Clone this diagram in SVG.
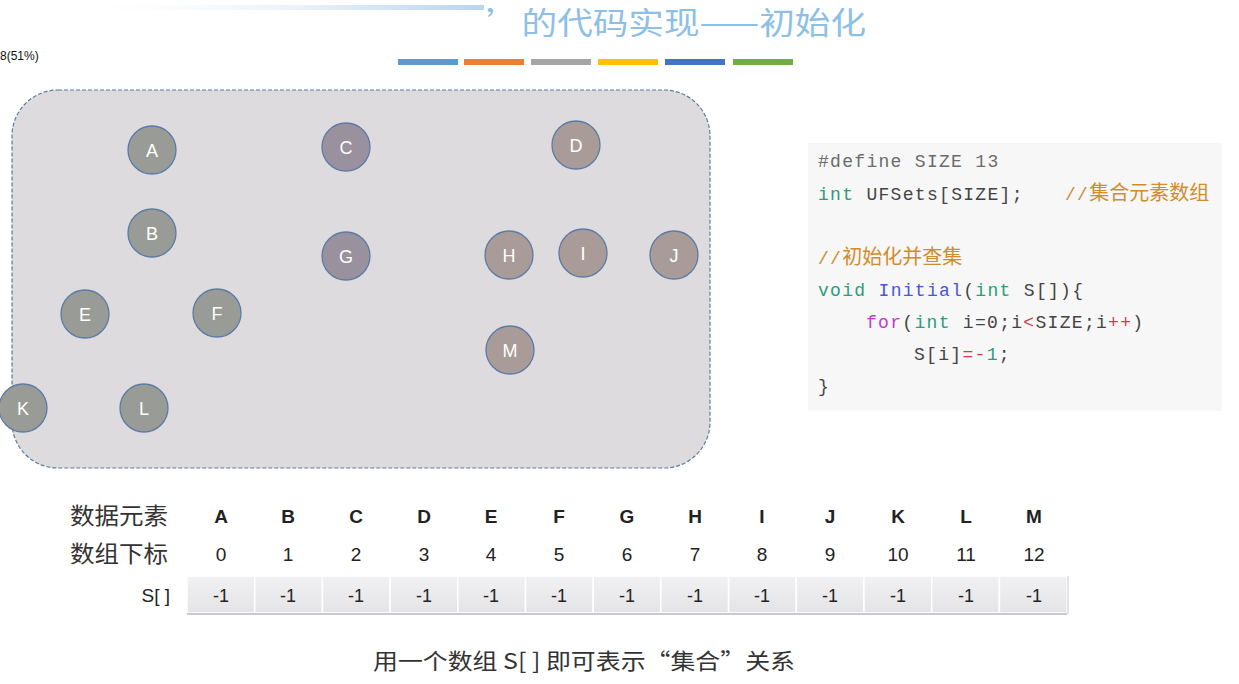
<svg xmlns="http://www.w3.org/2000/svg" width="1239" height="684" viewBox="0 0 1239 684">
<defs>
<linearGradient id="fade" x1="0" y1="0" x2="1" y2="0">
<stop offset="0" stop-color="#ffffff" stop-opacity="0"/>
<stop offset="0.6" stop-color="#e6eff8"/>
<stop offset="1" stop-color="#b9d5ee"/>
</linearGradient>
<linearGradient id="cell" x1="0" y1="0" x2="0" y2="1">
<stop offset="0" stop-color="#f1f1f3"/>
<stop offset="1" stop-color="#e4e4e6"/>
</linearGradient>
</defs>
<style>
.cjk{font-family:"Noto Sans CJK SC","Liberation Sans",sans-serif;}
.node circle{stroke:#5b7ba6;stroke-width:1.3;}
.node text{font-family:"Liberation Sans",sans-serif;font-size:18px;fill:#ffffff;text-anchor:middle;}
.g1 circle{fill:#999b97;}
.g2 circle{fill:#9a919f;}
.g3 circle{fill:#a99c98;}
.code{font-family:"Liberation Mono",monospace;font-size:18px;letter-spacing:1.3px;fill:#444;}
.cm{fill:#d28c2a;}
.cjkc{font-family:"Noto Sans CJK SC",sans-serif;font-size:20px;letter-spacing:0;}
.kw{fill:#2e9c7a;}
.fn{fill:#4b55d6;}
.fr{fill:#c33cc8;}
.op{fill:#d03a4a;}
.pp{fill:#6b6b6b;}
.hdr{font-family:"Liberation Sans",sans-serif;font-size:19px;font-weight:bold;fill:#222;text-anchor:middle;}
.idx{font-family:"Liberation Sans",sans-serif;font-size:19px;fill:#222;text-anchor:middle;}
.val{font-family:"Liberation Sans",sans-serif;font-size:18px;fill:#222;text-anchor:middle;}
.lbl{font-family:"Noto Sans CJK SC",sans-serif;font-size:23px;fill:#333;}
.c{fill:url(#cell);stroke:#ffffff;stroke-width:1.5;}
</style>
<rect width="1239" height="684" fill="#ffffff"/>
<!-- title -->
<rect x="60" y="5" width="424" height="5" fill="url(#fade)"/>
<text x="486" y="34" class="cjk" font-size="31" fill="#8dbfe8" textLength="380" lengthAdjust="spacingAndGlyphs">’的代码实现——初始化</text>
<text x="0" y="60" font-family="Liberation Sans Narrow, Liberation Sans, sans-serif" font-size="12" fill="#111">8(51%)</text>
<g id="bars">
<rect x="398" y="59" width="60" height="6" fill="#5b9bd5"/>
<rect x="464" y="59" width="60" height="6" fill="#ed7d31"/>
<rect x="531" y="59" width="60" height="6" fill="#a5a5a5"/>
<rect x="598" y="59" width="60" height="6" fill="#ffc000"/>
<rect x="665" y="59" width="60" height="6" fill="#4472c4"/>
<rect x="733" y="59" width="60" height="6" fill="#70ad47"/>
</g>
<!-- set container -->
<rect id="container" x="12" y="90" width="698" height="378" rx="46" ry="46" fill="#dddbde" stroke="#5f7b9a" stroke-width="1.2" stroke-dasharray="4 2"/>
<g id="connectors"></g>
<g id="nA" class="node g1"><circle cx="152" cy="150" r="24"/><text x="152" y="157">A</text></g>
<g id="nB" class="node g1"><circle cx="152" cy="233" r="24"/><text x="152" y="240">B</text></g>
<g id="nC" class="node g2"><circle cx="346" cy="147" r="24"/><text x="346" y="154">C</text></g>
<g id="nD" class="node g3"><circle cx="576" cy="145" r="24"/><text x="576" y="152">D</text></g>
<g id="nE" class="node g1"><circle cx="85" cy="314" r="24"/><text x="85" y="321">E</text></g>
<g id="nF" class="node g1"><circle cx="217" cy="313" r="24"/><text x="217" y="320">F</text></g>
<g id="nG" class="node g2"><circle cx="346" cy="256" r="24"/><text x="346" y="263">G</text></g>
<g id="nH" class="node g3"><circle cx="509" cy="255" r="24"/><text x="509" y="262">H</text></g>
<g id="nI" class="node g3"><circle cx="583" cy="253" r="24"/><text x="583" y="260">I</text></g>
<g id="nJ" class="node g3"><circle cx="674" cy="255" r="24"/><text x="674" y="262">J</text></g>
<g id="nK" class="node g1"><circle cx="23" cy="408" r="24"/><text x="23" y="415">K</text></g>
<g id="nL" class="node g1"><circle cx="144" cy="408" r="24"/><text x="144" y="415">L</text></g>
<g id="nM" class="node g3"><circle cx="510" cy="350" r="24"/><text x="510" y="357">M</text></g>
<!-- code -->
<g id="code">
<rect x="808" y="143" width="414" height="268" fill="#f7f7f7"/>
<text class="code" y="167"><tspan x="818" class="pp">#define SIZE 13</tspan></text>
<text class="code" y="200"><tspan x="818" class="kw">int</tspan> UFSets[SIZE];<tspan x="1065" class="cm">//</tspan><tspan class="cm cjkc">集合元素数组</tspan></text>
<text class="code" y="264"><tspan x="818" class="cm">//</tspan><tspan class="cm cjkc">初始化并查集</tspan></text>
<text class="code" y="296"><tspan x="818" class="kw">void</tspan> <tspan class="fn">Initial</tspan>(<tspan class="kw">int</tspan> S[]){</text>
<text class="code" y="328"><tspan x="866" class="fr">for</tspan>(<tspan class="kw">int</tspan> i=0;i<tspan class="op">&lt;</tspan>SIZE;i<tspan class="op">++</tspan>)</text>
<text class="code" y="360"><tspan x="914">S[i]</tspan><tspan class="op">=-</tspan><tspan class="kw">1</tspan>;</text>
<text class="code" y="392"><tspan x="818">}</tspan></text>
</g>
<!-- table -->
<g id="table">
<text class="lbl" x="70" y="524" textLength="98" lengthAdjust="spacingAndGlyphs">数据元素</text>
<text class="lbl" x="70" y="562" textLength="98" lengthAdjust="spacingAndGlyphs">数组下标</text>
<text x="170" y="602" font-family="Liberation Sans, sans-serif" font-size="19" fill="#222" text-anchor="end">S[ ]</text>
<g id="cells">
<rect class="c" x="187" y="576" width="67.7" height="37"/>
<rect class="c" x="254.7" y="576" width="67.7" height="37"/>
<rect class="c" x="322.4" y="576" width="67.7" height="37"/>
<rect class="c" x="390.1" y="576" width="67.7" height="37"/>
<rect class="c" x="457.8" y="576" width="67.7" height="37"/>
<rect class="c" x="525.5" y="576" width="67.7" height="37"/>
<rect class="c" x="593.2" y="576" width="67.7" height="37"/>
<rect class="c" x="660.9" y="576" width="67.7" height="37"/>
<rect class="c" x="728.6" y="576" width="67.7" height="37"/>
<rect class="c" x="796.3" y="576" width="67.7" height="37"/>
<rect class="c" x="864" y="576" width="67.7" height="37"/>
<rect class="c" x="931.7" y="576" width="67.7" height="37"/>
<rect class="c" x="999.4" y="576" width="67.7" height="37"/>
<line x1="187" y1="614" x2="1067" y2="614" stroke="#b8b8bc" stroke-width="1.5"/>
<line x1="1068" y1="576" x2="1068" y2="614" stroke="#c8c8cc" stroke-width="1"/>
</g>
<g class="hdr">
<text x="221" y="523">A</text><text x="288" y="523">B</text><text x="356" y="523">C</text><text x="424" y="523">D</text><text x="491" y="523">E</text><text x="559" y="523">F</text><text x="627" y="523">G</text><text x="695" y="523">H</text><text x="762" y="523">I</text><text x="830" y="523">J</text><text x="898" y="523">K</text><text x="966" y="523">L</text><text x="1034" y="523">M</text>
</g>
<g class="idx">
<text x="221" y="561">0</text><text x="288" y="561">1</text><text x="356" y="561">2</text><text x="424" y="561">3</text><text x="491" y="561">4</text><text x="559" y="561">5</text><text x="627" y="561">6</text><text x="695" y="561">7</text><text x="762" y="561">8</text><text x="830" y="561">9</text><text x="898" y="561">10</text><text x="966" y="561">11</text><text x="1034" y="561">12</text>
</g>
<g class="val">
<text x="221" y="602">-1</text><text x="288" y="602">-1</text><text x="356" y="602">-1</text><text x="424" y="602">-1</text><text x="491" y="602">-1</text><text x="559" y="602">-1</text><text x="627" y="602">-1</text><text x="695" y="602">-1</text><text x="762" y="602">-1</text><text x="830" y="602">-1</text><text x="898" y="602">-1</text><text x="966" y="602">-1</text><text x="1034" y="602">-1</text>
</g>
</g>
<text x="373" y="669" class="cjk" font-size="22" fill="#333" textLength="422" lengthAdjust="spacingAndGlyphs">用一个数组 S[ ] 即可表示“集合”关系</text>
</svg>
